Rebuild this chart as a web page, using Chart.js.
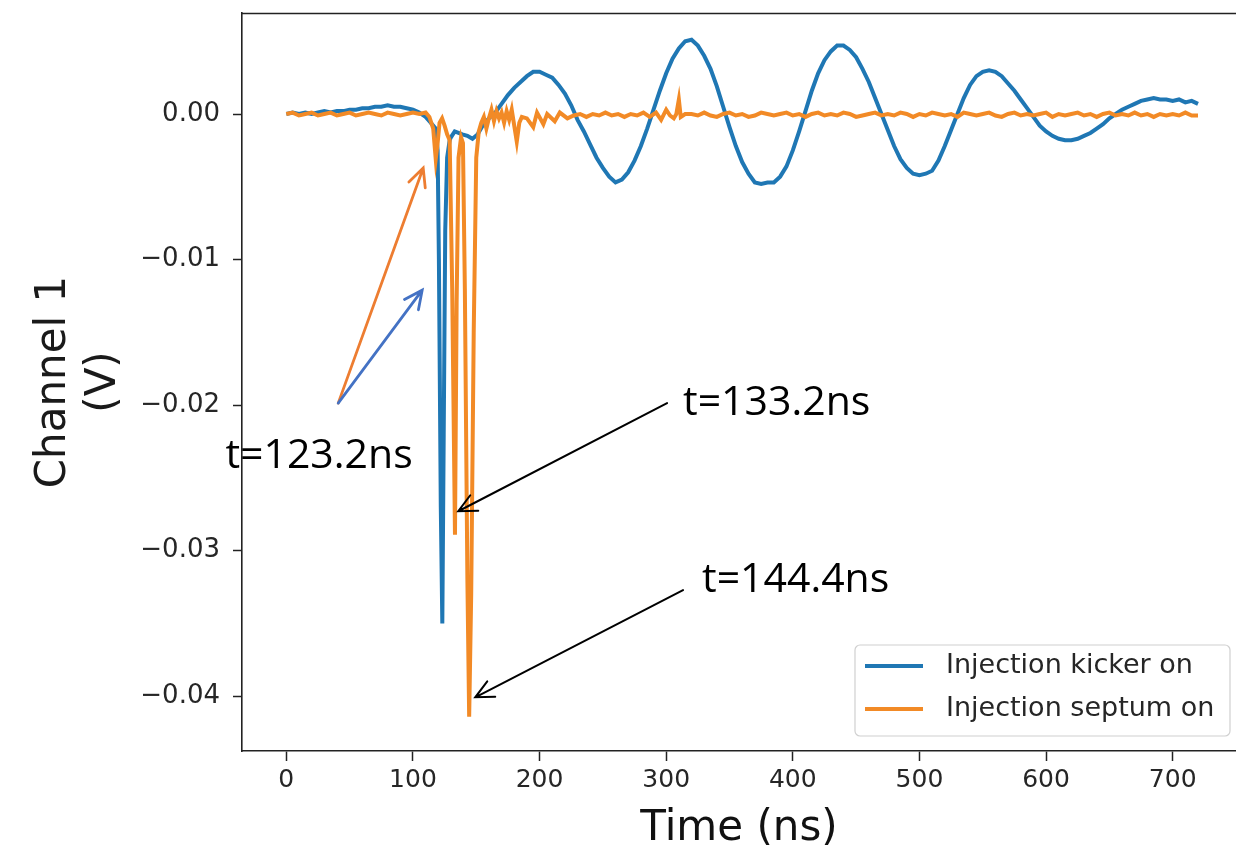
<!DOCTYPE html>
<html>
<head>
<meta charset="utf-8">
<script src="https://cdn.jsdelivr.net/npm/chart.js@4.4.1/dist/chart.umd.min.js"></script>
<style>
html,body{margin:0;padding:0;background:#fff;}
#wrap{width:1236px;height:852px;}
</style>
</head>
<body>
<div id="wrap"><canvas id="c" width="1236" height="852"></canvas></div>
<script>
// ---- data ----
const seriesNames = ['Injection kicker on', 'Injection septum on'];
const xTicks = [0, 100, 200, 300, 400, 500, 600, 700];
const yTicks = [0.00, -0.01, -0.02, -0.03, -0.04];

const kickerT = [0,5,10,15,20,25,30,35,40,45,50,55,60,65,70,75,80,85,90,95,100,105,110,113,116,118,119.5,120.5,122,123.2,124.3,125.5,127,129,
  130,133,136,139,143,147,151,155,160,165,170,175,180,185,190,195,200,205,210,215,220,225,230,235,240,245,250,255,260,265,270,275,280,285,
  290,295,300,305,310,315,320,325,330,335,340,345,350,355,360,365,370,375,380,385,390,395,400,405,410,415,420,425,430,435,440,445,450,455,
  460,465,470,475,480,485,490,495,500,505,510,515,520,525,530,535,540,545,550,555,560,565,570,575,580,585,590,595,600,605,610,615,620,625,
  630,635,640,645,650,655,660,665,670,675,680,685,690,695,700,705,710,715,720];
const kickerV = [0.0000,0.0001,0.0000,0.0001,0.0000,0.0001,0.0002,0.0001,0.0002,0.0002,0.0003,0.0003,0.0004,0.0004,0.0005,0.0005,0.0006,0.0005,0.0005,0.0004,0.0003,0.0001,-0.0002,-0.0005,-0.0008,-0.0010,-0.0025,-0.0100,-0.0270,-0.0350,-0.0220,-0.0080,-0.0030,-0.0018,
  -0.0016,-0.0012,-0.0013,-0.0014,-0.0015,-0.0017,-0.0014,-0.0008,-0.0003,0.0001,0.0007,0.0013,0.0018,0.0022,0.0026,0.0029,0.0029,0.0027,0.0025,0.0020,0.0014,0.0006,-0.0004,-0.0012,-0.0021,-0.0030,-0.0037,-0.0043,-0.0047,-0.0045,-0.0040,-0.0032,-0.0022,-0.0010,
  0.0003,0.0016,0.0028,0.0038,0.0045,0.0050,0.0051,0.0047,0.0040,0.0031,0.0019,0.0005,-0.0009,-0.0022,-0.0033,-0.0041,-0.0047,-0.0048,-0.0047,-0.0047,-0.0043,-0.0036,-0.0025,-0.0012,0.0002,0.0016,0.0028,0.0037,0.0043,0.0047,0.0047,0.0044,0.0039,0.0031,
  0.0022,0.0011,0.0000,-0.0011,-0.0022,-0.0031,-0.0037,-0.0041,-0.0042,-0.0041,-0.0039,-0.0032,-0.0022,-0.0011,0.0000,0.0011,0.0020,0.0026,0.0029,0.0030,0.0029,0.0026,0.0021,0.0016,0.0010,0.0004,-0.0002,-0.0008,-0.0012,-0.0015,-0.0017,-0.0018,-0.0018,-0.0017,
  -0.0015,-0.0013,-0.0010,-0.0007,-0.0003,0.0000,0.0003,0.0005,0.0007,0.0009,0.0010,0.0011,0.0010,0.0010,0.0009,0.0010,0.0008,0.0009,0.0007];

const septumT = [0,5,10,15,20,25,30,35,40,45,50,55,60,65,70,75,80,85,90,95,100,105,110,
  113,116,118,119.5,121,123,125,127,129,131,133.2,134.5,136,138,139.5,141,143,144.4,146,148,150,
  152,154,156,158,160,162,164,166,168,170,172,174,176,178,180,182,184,186,
  190,195,198,203,206,212,216,222,
  227,232,237,242,247,252,257,262,267,272,277,282,287,292,
  296,300,303,306,308,310,311.5,315,
  320,325,330,335,340,345,350,355,360,365,370,375,380,385,390,395,400,405,410,415,420,425,430,435,440,445,450,455,460,465,470,475,480,485,490,495,500,
  505,510,515,520,525,530,535,540,545,550,555,560,565,570,575,580,585,590,595,600,605,610,615,620,625,630,635,640,645,650,655,660,665,670,675,680,685,690,695,700,705,710,715,720];
const septumV = [0.0000,0.0001,-0.0001,0.0000,0.0001,-0.0001,0.0000,0.0001,-0.0001,0.0000,0.0001,-0.0001,0.0000,0.0001,0.0000,-0.0001,0.0001,0.0000,-0.0001,0.0000,0.0001,0.0000,0.0001,
  -0.0002,-0.0010,-0.0031,-0.0020,-0.0006,-0.0003,-0.0008,-0.0014,-0.0018,-0.0120,-0.0289,-0.0130,-0.0030,-0.0016,-0.0020,-0.0120,-0.0320,-0.0414,-0.0330,-0.0150,-0.0030,
  -0.0012,-0.0006,-0.0002,-0.0010,-0.0003,0.0003,-0.0005,0.0002,-0.0003,0.0001,-0.0006,0.0002,-0.0004,0.0003,-0.0008,-0.0019,-0.0006,-0.0002,
  -0.0003,-0.0009,0.0001,-0.0007,0.0000,-0.0005,0.0001,-0.0003,
  -0.0001,0.0000,-0.0002,0.0000,-0.0001,0.0001,-0.0001,0.0000,-0.0002,0.0000,-0.0001,0.0001,-0.0002,0.0001,
  -0.0004,0.0003,-0.0001,-0.0003,0.0000,0.0010,-0.0002,0.0000,
  0.0000,-0.0001,0.0001,-0.0001,-0.0002,0.0000,0.0001,-0.0001,0.0000,-0.0002,-0.0001,0.0001,0.0000,-0.0001,0.0000,0.0001,-0.0001,0.0000,-0.0002,0.0000,0.0001,-0.0001,0.0000,-0.0001,0.0001,0.0000,-0.0002,-0.0001,0.0000,0.0001,-0.0001,0.0000,-0.0001,0.0001,0.0000,-0.0002,0.0000,
  -0.0001,0.0001,0.0000,-0.0001,0.0000,-0.0002,0.0001,0.0000,-0.0001,0.0000,0.0001,-0.0001,-0.0002,0.0000,0.0001,-0.0001,0.0000,-0.0001,0.0000,0.0001,-0.0002,0.0000,-0.0001,0.0000,0.0001,-0.0001,0.0000,-0.0002,0.0000,0.0001,-0.0001,0.0000,-0.0001,0.0001,-0.0001,0.0000,-0.0002,0.0000,-0.0001,0.0000,-0.0001,0.0001,-0.0001,-0.0001];

// annotation labels and arrows, in data units (ns, V)
const noteTexts = ['t=123.2ns', 't=133.2ns', 't=144.4ns'];
const noteAt = [[-48.1, -0.02433], [313.3, -0.02069], [328.3, -0.03285]];
const arrowFrom = [[41.0, -0.01986], [41.0, -0.01986], [300.7, -0.01986], [313.3, -0.03271]];
const arrowTo = [[108.1, -0.00371], [107.3, -0.0121], [135.8, -0.02729], [149.2, -0.04007]];
const arrowColors = ['#ed7d31', '#4472c4', '#000000', '#000000'];
const arrowWidths = [2.8, 2.8, 2, 2];

const lineColors = ['#1f77b4', '#f28a26'];

function pts(T, V) { return T.map((t, i) => ({x: t, y: V[i]})); }

const frameAndNotes = {
  id: 'frameAndNotes',
  afterDraw(chart) {
    const ctx = chart.ctx, a = chart.chartArea;
    const xs = chart.scales.x, ys = chart.scales.y;
    ctx.save();
    // top spine
    ctx.strokeStyle = '#222'; ctx.lineWidth = 1.6;
    ctx.beginPath(); ctx.moveTo(a.left, a.top + 0.5); ctx.lineTo(a.right, a.top + 0.5); ctx.stroke();

    // arrows
    arrowFrom.forEach((f, i) => {
      const x1 = xs.getPixelForValue(f[0]), y1 = ys.getPixelForValue(f[1]);
      const x2 = xs.getPixelForValue(arrowTo[i][0]), y2 = ys.getPixelForValue(arrowTo[i][1]);
      const ang = Math.atan2(y2 - y1, x2 - x1);
      const hl = 20, ha = 0.45;
      ctx.strokeStyle = arrowColors[i]; ctx.lineWidth = arrowWidths[i]; ctx.lineCap = 'round';
      ctx.beginPath(); ctx.moveTo(x1, y1); ctx.lineTo(x2, y2);
      ctx.moveTo(x2 - hl * Math.cos(ang - ha), y2 - hl * Math.sin(ang - ha));
      ctx.lineTo(x2, y2);
      ctx.lineTo(x2 - hl * Math.cos(ang + ha), y2 - hl * Math.sin(ang + ha));
      ctx.stroke();
    });

    // annotation texts
    ctx.fillStyle = '#000';
    ctx.font = '41px "Open Sans"';
    ctx.textAlign = 'left'; ctx.textBaseline = 'alphabetic';
    noteTexts.forEach((t, i) => {
      ctx.fillText(t, xs.getPixelForValue(noteAt[i][0]), ys.getPixelForValue(noteAt[i][1]));
    });

    // legend (matplotlib style, lower right)
    const bx = a.right - 381, by = a.bottom - 106, bw = 375, bh = 91;
    ctx.fillStyle = 'rgba(255,255,255,0.85)';
    ctx.strokeStyle = '#d0d0d0'; ctx.lineWidth = 1.2;
    ctx.beginPath();
    if (ctx.roundRect) ctx.roundRect(bx, by, bw, bh, 5); else ctx.rect(bx, by, bw, bh);
    ctx.fill(); ctx.stroke();
    ctx.font = '27px "DejaVu Sans"'; ctx.textBaseline = 'middle';
    seriesNames.forEach((n, i) => {
      const yy = by + 21 + i * 43;
      ctx.strokeStyle = lineColors[i]; ctx.lineWidth = 4; ctx.lineCap = 'butt';
      ctx.beginPath(); ctx.moveTo(bx + 10, yy); ctx.lineTo(bx + 68, yy); ctx.stroke();
      ctx.fillStyle = '#262626';
      ctx.fillText(n, bx + 91, yy);
    });
    ctx.restore();
  }
};

Chart.defaults.font.family = '"DejaVu Sans"';
Chart.defaults.color = '#262626';

new Chart(document.getElementById('c'), {
  type: 'line',
  data: {
    datasets: [
      {label: seriesNames[0], data: pts(kickerT, kickerV), borderColor: lineColors[0], borderWidth: 4, pointRadius: 0, tension: 0, order: 2},
      {label: seriesNames[1], data: pts(septumT, septumV), borderColor: lineColors[1], borderWidth: 4, pointRadius: 0, tension: 0, order: 1}
    ]
  },
  options: {
    responsive: false,
    animation: false,
    devicePixelRatio: 1,
    layout: {padding: {top: 13, left: 0, right: 0, bottom: 0}},
    plugins: {legend: {display: false}, tooltip: {enabled: false}},
    scales: {
      x: {
        type: 'linear', min: -35, max: 750,
        afterBuildTicks(s) { s.ticks = xTicks.map(v => ({value: v})); },
        afterFit(s) { s.height = 101; s.paddingLeft = 0; s.paddingRight = 0; },
        ticks: {font: {size: 25}, color: '#262626', padding: 4, maxRotation: 0, callback: v => String(v)},
        grid: {drawOnChartArea: false, drawTicks: true, tickLength: 10, tickWidth: 1.5, tickColor: '#222'},
        border: {display: true, color: '#222', width: 1.6},
        title: {display: true, text: 'Time (ns)', font: {size: 42, lineHeight: 1.1}, color: '#111', padding: {top: 0, bottom: 0}}
      },
      y: {
        type: 'linear', min: -0.04376, max: 0.00694,
        afterBuildTicks(s) { s.ticks = yTicks.map(v => ({value: v})); },
        afterFit(s) { s.width = 242; s.paddingTop = 0; s.paddingBottom = 0; },
        ticks: {font: {size: 26}, color: '#262626', padding: 13, callback: v => v.toFixed(2).replace('-', '\u2212')},
        grid: {drawOnChartArea: false, drawTicks: true, tickLength: 9, tickWidth: 1.5, tickColor: '#222'},
        border: {display: true, color: '#222', width: 1.6},
        title: {display: true, text: ['Channel 1', '(V)'], font: {size: 42, lineHeight: 1.17}, color: '#1a1a1a', padding: {top: 30, bottom: 0}}
      }
    }
  },
  plugins: [frameAndNotes]
});
</script>
</body>
</html>
